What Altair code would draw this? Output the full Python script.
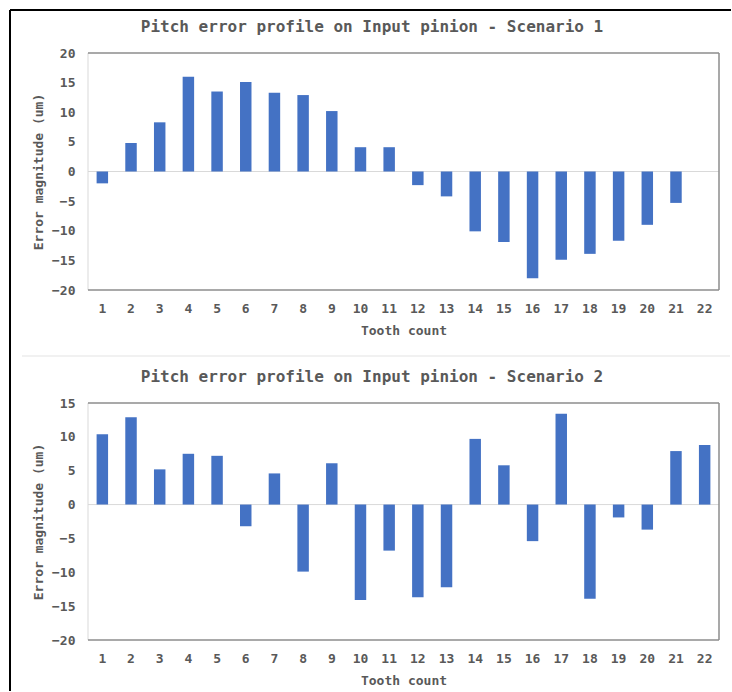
import altair as alt
import pandas as pd

# Pitch error per tooth (um) for the two scenarios
teeth = list(range(1, 23))
scenario1 = [-2.0, 4.8, 8.3, 16.0, 13.5, 15.1, 13.3, 12.9, 10.2, 4.1, 4.1,
             -2.3, -4.2, -10.1, -11.9, -18.0, -14.9, -13.9, -11.7, -9.0, -5.3, 0.0]
scenario2 = [10.4, 12.9, 5.2, 7.5, 7.2, -3.2, 4.6, -9.9, 6.1, -14.1, -6.8,
             -13.7, -12.2, 9.7, 5.8, -5.4, 13.4, -13.9, -1.9, -3.7, 7.9, 8.8]
titles = ["Pitch error profile on Input pinion - Scenario 1",
          "Pitch error profile on Input pinion - Scenario 2"]
ticks1 = [-20, -15, -10, -5, 0, 5, 10, 15, 20]
ticks2 = [-20, -15, -10, -5, 0, 5, 10, 15]

W, H = 631, 237
FONT = "DejaVu Sans Mono"
GREY = "#595959"
BAR = "#4472C4"
one = pd.DataFrame({"k": [0]})


def line(x, y, x2=None, y2=None, color="#8c8c8c", width=1.5):
    enc = {"x": alt.value(x), "y": alt.value(y)}
    if x2 is not None:
        enc["x2"] = alt.value(x2)
    if y2 is not None:
        enc["y2"] = alt.value(y2)
    return alt.Chart(one).mark_rule(color=color, strokeWidth=width).encode(**enc)


def panel(values, title, ticks, extras):
    df = pd.DataFrame({"tooth": teeth, "error": values})
    yscale = alt.Scale(domain=[ticks[0], ticks[-1]], nice=False, zero=False)
    yaxis = alt.Axis(values=ticks, title="Error magnitude (um)",
                     grid=False, domain=False, ticks=False, tickSize=0,
                     labelPadding=13, labelOverlap=False,
                     titleX=-50, titleY=H / 2,
                     titleAngle=-90, titleBaseline="middle", titleAlign="center")
    bars = alt.Chart(df).mark_bar(color=BAR).encode(
        x=alt.X("tooth:O",
                scale=alt.Scale(paddingInner=0.6, paddingOuter=0.3),
                axis=alt.Axis(labelAngle=0, title="Tooth count", domain=False,
                              ticks=False, tickSize=0, labelPadding=12,
                              labelOverlap=False,
                              titleX=W / 2, titleY=40.5, titleBaseline="middle")),
        y=alt.Y("error:Q", scale=yscale, axis=yaxis),
    )
    # horizontal axis line through zero
    zero = alt.Chart(pd.DataFrame({"error": [0]})).mark_rule(
        color="#d9d9d9", strokeWidth=1).encode(
        y=alt.Y("error:Q", scale=yscale, axis=yaxis))
    border = [
        line(0, 0, y2=H, color="#d9d9d9", width=1),
        line(0, 0, x2=W),
        line(W, 0, y2=H),
        line(0, H, x2=W),
    ]
    head = alt.Chart(one).mark_text(
        text=title, font=FONT, fontSize=16, fontWeight="bold", color=GREY,
        align="center", baseline="middle").encode(x=alt.value(284), y=alt.value(-26))
    return alt.layer(zero, bars, *border, head, *extras).properties(width=W, height=H)


# Outer black frame runs along the top and down the left side of the figure
top = panel(scenario1, titles[0], ticks1, [
    line(-78, -43, x2=643, color="black", width=2),
    line(-78, -43, y2=638, color="black", width=2),
])
bottom = panel(scenario2, titles[1], ticks2, [
    line(-66, -47, x2=642, color="#e3e3e3", width=1),
])

chart = alt.vconcat(top, bottom, spacing=113, bounds="flush").properties(
    padding={"left": 9, "top": 9, "right": 0, "bottom": 0},
    background="white",
).configure_view(stroke=None).configure_axis(
    labelFont=FONT, labelFontSize=13, labelFontWeight="bold", labelColor=GREY,
    titleFont=FONT, titleFontSize=13, titleFontWeight="bold", titleColor=GREY,
)

chart.save("out.html", embed_options={"renderer": "svg", "actions": False})
